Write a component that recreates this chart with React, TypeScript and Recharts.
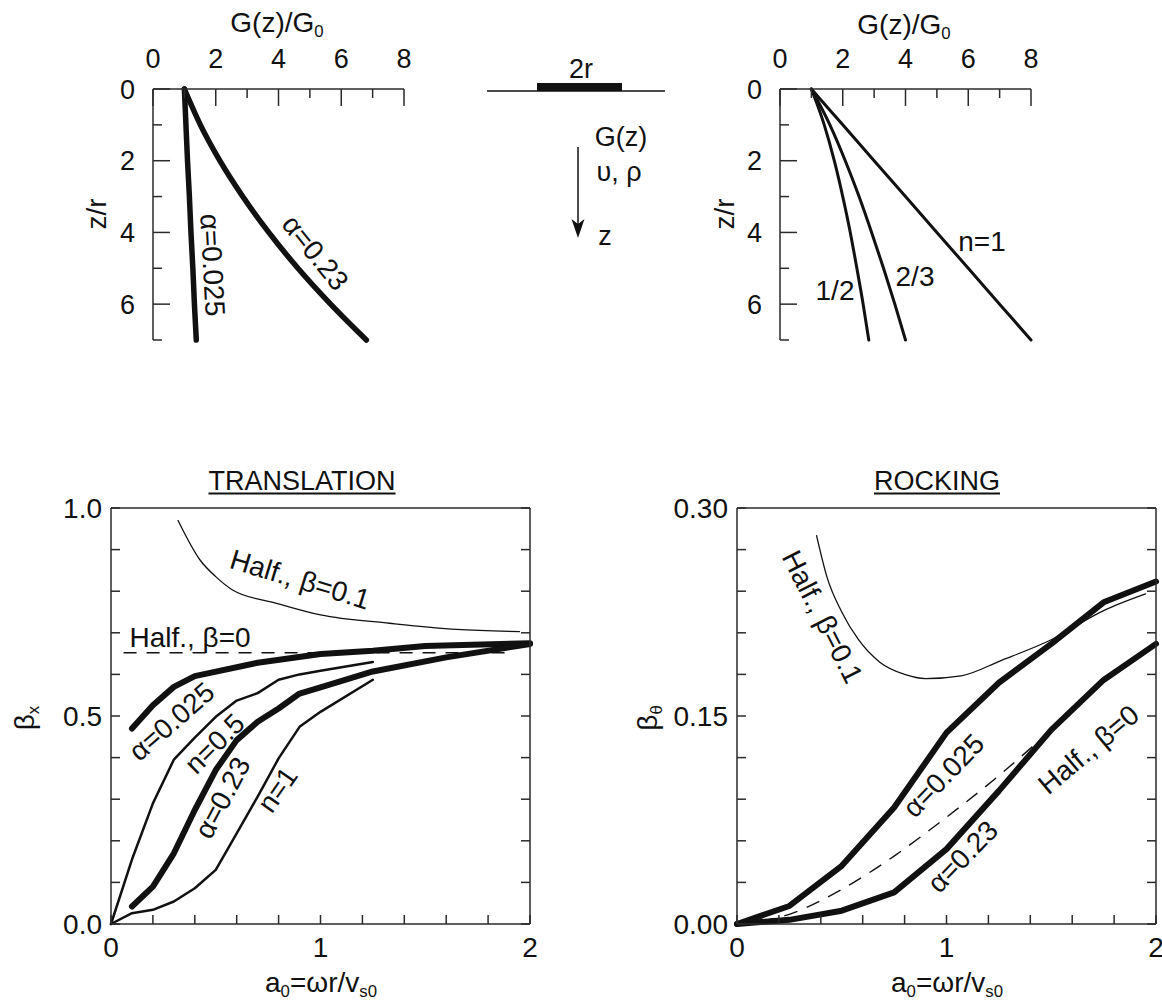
import { Line, LineChart, XAxis, YAxis } from "recharts";

const FONT = "'Liberation Sans', Arial, Helvetica, sans-serif";
const INK = "#111";
const AXIS = "#2a2a2a";

// ---- top panels: stiffness profiles, G(z)/G0 against depth z/r ----
const depth = [0, 1, 2, 3, 4, 5, 6, 7];
const gAlpha025 = [1.0, 1.05, 1.1, 1.16, 1.21, 1.27, 1.32, 1.38];
const gAlpha023 = [1.0, 1.51, 2.13, 2.86, 3.69, 4.62, 5.66, 6.8];
const gHalf = [1.0, 1.41, 1.73, 2.0, 2.24, 2.45, 2.65, 2.83];
const gTwoThirds = [1.0, 1.59, 2.08, 2.52, 2.92, 3.3, 3.66, 4.0];
const gLinear = [1, 2, 3, 4, 5, 6, 7, 8];
const gTicks = [0, 1, 2, 3, 4, 5, 6, 7, 8];
const zTicks = [0, 1, 2, 3, 4, 5, 6, 7];

// ---- bottom panels: damping against a0 = wr/vs0 ----
const a0Ticks = [0, 0.2, 0.4, 0.6, 0.8, 1, 1.2, 1.4, 1.6, 1.8, 2];
const bxTicks = [0, 0.1, 0.2, 0.3, 0.4, 0.5, 0.6, 0.7, 0.8, 0.9, 1];
const btTicks = [0, 0.03, 0.06, 0.09, 0.12, 0.15, 0.18, 0.21, 0.24, 0.27, 0.3];

// translation
const trA025x = [0.1, 0.2, 0.3, 0.4, 0.7, 1.0, 1.25, 1.5, 2.0];
const trA025y = [0.47, 0.526, 0.57, 0.596, 0.628, 0.649, 0.657, 0.668, 0.675];
const trN05x = [0, 0.1, 0.2, 0.3, 0.4, 0.5, 0.6, 0.7, 0.8, 0.9, 1.0, 1.25];
const trN05y = [0, 0.155, 0.29, 0.395, 0.448, 0.498, 0.537, 0.555, 0.587, 0.6, 0.609, 0.63];
const trA023x = [0.1, 0.2, 0.3, 0.4, 0.5, 0.6, 0.7, 0.8, 0.9, 1.0, 1.25, 1.6, 2.0];
const trA023y = [0.042, 0.09, 0.17, 0.274, 0.37, 0.442, 0.486, 0.518, 0.554, 0.569, 0.607, 0.641, 0.673];
const trN1x = [0, 0.1, 0.2, 0.3, 0.4, 0.5, 0.6, 0.7, 0.8, 0.9, 1.0, 1.25];
const trN1y = [0, 0.026, 0.034, 0.054, 0.086, 0.13, 0.218, 0.306, 0.398, 0.474, 0.51, 0.587];
const trHalf01x = [0.32, 0.425, 0.5, 0.58, 0.79, 1.0, 1.33, 1.65, 1.95];
const trHalf01y = [0.97, 0.875, 0.835, 0.803, 0.771, 0.743, 0.723, 0.708, 0.703];
const trHalf0x = [0.06, 1.92];
const trHalf0y = [0.652, 0.652];

// rocking
const rkA0x = [0, 0.25, 0.5, 0.75, 1.0, 1.25, 1.5, 1.75, 2.0];
const rkA025y = [0, 0.013, 0.042, 0.084, 0.138, 0.174, 0.202, 0.232, 0.247];
const rkA023y = [0, 0.003, 0.0096, 0.0228, 0.054, 0.096, 0.14, 0.176, 0.202];
const rkHalf0x = [0, 0.25, 0.5, 0.75, 1.0, 1.25, 1.5];
const rkHalf0y = [0, 0.007, 0.025, 0.049, 0.077, 0.107, 0.14];
const rkHalf01x = [0.38, 0.43, 0.5, 0.58, 0.68, 0.8, 0.9, 1.07, 1.26, 1.5, 1.75, 1.95];
const rkHalf01y = [0.28, 0.25, 0.225, 0.205, 0.189, 0.18, 0.177, 0.179, 0.19, 0.205, 0.226, 0.238];

const pts = (xs: number[], ys: number[]) => xs.map((x, i) => ({ x, y: ys[i] }));

type Side = "top" | "bottom" | "left" | "right";

// inward tick marks, label drawn outside the axis
const tickFor =
  (side: Side, fmt: ((v: number) => string | null) | null, lenOf: (v: number) => number, gap: number, size = 28) =>
  (p: any) => {
    const v = Number(p.payload.value);
    const len = lenOf(v);
    const label = fmt ? fmt(v) : null;
    const { x, y } = p;
    const ts = { fontSize: size, fontFamily: FONT, fill: INK };
    let ln;
    let tx;
    if (side === "top") {
      ln = <line x1={x} y1={y} x2={x} y2={y + len} stroke={AXIS} strokeWidth={1.5} />;
      tx = <text x={x} y={y - gap} textAnchor="middle" style={ts}>{label}</text>;
    } else if (side === "bottom") {
      ln = <line x1={x} y1={y} x2={x} y2={y - len} stroke={AXIS} strokeWidth={1.5} />;
      tx = <text x={x} y={y + gap} dy="0.71em" textAnchor="middle" style={ts}>{label}</text>;
    } else if (side === "left") {
      ln = <line x1={x} y1={y} x2={x + len} y2={y} stroke={AXIS} strokeWidth={1.5} />;
      tx = <text x={x - gap} y={y} dy="0.36em" textAnchor="end" style={ts}>{label}</text>;
    } else {
      ln = <line x1={x} y1={y} x2={x - len} y2={y} stroke={AXIS} strokeWidth={1.5} />;
      tx = null;
    }
    return (
      <g>
        {ln}
        {label !== null ? tx : null}
      </g>
    );
  };

const near = (a: number, b: number) => Math.abs(a - b) < 1e-6;
const evenLabel = (v: number) => (v % 2 === 0 ? String(v) : null);
const evenLen = (v: number) => (v % 2 === 0 ? 17 : 9);

function Note({ x, y, angle = 0, size = 28, underline = false, children }: any) {
  return (
    <div
      style={{
        position: "absolute",
        left: x,
        top: y,
        transform: `translate(-50%, -50%) rotate(${angle}deg)`,
        fontSize: size,
        lineHeight: 1,
        whiteSpace: "nowrap",
        color: INK,
        textDecoration: underline ? "underline" : undefined,
        textUnderlineOffset: 3,
      }}
    >
      {children}
    </div>
  );
}

const Sub = ({ children }: any) => (
  <span style={{ fontSize: "0.6em", position: "relative", top: "0.3em" }}>{children}</span>
);

// axes get a 1px band (Recharts skips axes of zero size); margins are reduced to match
function Profile({ left, curves }: { left: number; curves: { data: { x: number; y: number }[]; w: number }[] }) {
  return (
    <div style={{ position: "absolute", left, top: 0 }}>
      <LineChart width={440} height={370} margin={{ top: 88, left: 152, right: 36, bottom: 30 }}>
        <XAxis
          type="number"
          dataKey="x"
          orientation="top"
          domain={[0, 8]}
          ticks={gTicks}
          interval={0}
          height={1}
          tickSize={0}
          tickMargin={0}
          tickLine={false}
          axisLine={{ stroke: AXIS, strokeWidth: 1.5 }}
          tick={tickFor("top", evenLabel, evenLen, 21, 27)}
        />
        <YAxis
          type="number"
          dataKey="y"
          reversed
          domain={[0, 7]}
          ticks={zTicks}
          interval={0}
          width={1}
          tickSize={0}
          tickMargin={0}
          tickLine={false}
          axisLine={{ stroke: AXIS, strokeWidth: 1.5 }}
          tick={tickFor("left", evenLabel, evenLen, 18, 27)}
        />
        {curves.map((c, i) => (
          <Line
            key={i}
            data={c.data}
            dataKey="y"
            type="monotone"
            stroke={INK}
            strokeWidth={c.w}
            strokeLinecap="round"
            dot={false}
            activeDot={false}
            isAnimationActive={false}
          />
        ))}
      </LineChart>
    </div>
  );
}

type Curve = { data: { x: number; y: number }[]; w: number; dash?: string; smooth?: boolean };

function Response({
  left,
  yMax,
  yTicks,
  yFmt,
  curves,
}: {
  left: number;
  yMax: number;
  yTicks: number[];
  yFmt: (v: number) => string | null;
  curves: Curve[];
}) {
  const x2 = (v: number) => (near(v, Math.round(v)) ? String(Math.round(v)) : null);
  const axisLine = { stroke: AXIS, strokeWidth: 1.5 };
  return (
    <div style={{ position: "absolute", left, top: 440 }}>
      <LineChart width={570} height={562} margin={{ top: 67, left: 110, right: 39, bottom: 77 }}>
        <XAxis
          type="number"
          dataKey="x"
          domain={[0, 2]}
          ticks={a0Ticks}
          interval={0}
          height={1}
          tickSize={0}
          tickMargin={0}
          tickLine={false}
          axisLine={axisLine}
          tick={tickFor("bottom", x2, () => 9, 13)}
        />
        <XAxis
          xAxisId="t"
          type="number"
          orientation="top"
          domain={[0, 2]}
          allowDataOverflow
          ticks={a0Ticks}
          interval={0}
          height={1}
          tickSize={0}
          tickMargin={0}
          tickLine={false}
          axisLine={axisLine}
          tick={tickFor("top", null, () => 9, 0)}
        />
        <YAxis
          type="number"
          dataKey="y"
          domain={[0, yMax]}
          ticks={yTicks}
          interval={0}
          width={1}
          tickSize={0}
          tickMargin={0}
          tickLine={false}
          axisLine={axisLine}
          tick={tickFor("left", yFmt, () => 9, 9)}
        />
        <YAxis
          yAxisId="r"
          type="number"
          orientation="right"
          domain={[0, yMax]}
          allowDataOverflow
          ticks={yTicks}
          interval={0}
          width={1}
          tickSize={0}
          tickMargin={0}
          tickLine={false}
          axisLine={axisLine}
          tick={tickFor("right", null, () => 9, 0)}
        />
        {curves.map((c, i) => (
          <Line
            key={i}
            data={c.data}
            dataKey="y"
            type={c.smooth ? "monotone" : "linear"}
            stroke={INK}
            strokeWidth={c.w}
            strokeDasharray={c.dash}
            strokeLinecap={c.dash ? "butt" : "round"}
            strokeLinejoin="round"
            dot={false}
            activeDot={false}
            isAnimationActive={false}
          />
        ))}
      </LineChart>
    </div>
  );
}

export default function App() {
  return (
    <div
      style={{
        position: "absolute",
        left: 0,
        top: 0,
        width: 1162,
        height: 1002,
        overflow: "hidden",
        background: "#fff",
        fontFamily: FONT,
        color: INK,
      }}
    >
      <Profile
        left={0}
        curves={[
          { data: pts(gAlpha025, depth), w: 5.5 },
          { data: pts(gAlpha023, depth), w: 5.5 },
        ]}
      />
      <Profile
        left={627}
        curves={[
          { data: pts(gHalf, depth), w: 3 },
          { data: pts(gTwoThirds, depth), w: 3 },
          { data: pts(gLinear, depth), w: 3 },
        ]}
      />
      <Response
        left={0}
        yMax={1}
        yTicks={bxTicks}
        yFmt={(v) => (near(v * 2, Math.round(v * 2)) ? v.toFixed(1) : null)}
        curves={[
          { data: pts(trHalf01x, trHalf01y), w: 1.3, smooth: true },
          { data: pts(trHalf0x, trHalf0y), w: 1.4, dash: "13 10" },
          { data: pts(trA025x, trA025y), w: 6 },
          { data: pts(trN05x, trN05y), w: 2.5 },
          { data: pts(trA023x, trA023y), w: 6 },
          { data: pts(trN1x, trN1y), w: 2.5 },
        ]}
      />
      <Response
        left={626}
        yMax={0.3}
        yTicks={btTicks}
        yFmt={(v) => (near(v / 0.15, Math.round(v / 0.15)) ? v.toFixed(2) : null)}
        curves={[
          { data: pts(rkHalf01x, rkHalf01y), w: 1.3, smooth: true },
          { data: pts(rkHalf0x, rkHalf0y), w: 1.4, dash: "14 10", smooth: true },
          { data: pts(rkA0x, rkA025y), w: 6 },
          { data: pts(rkA0x, rkA023y), w: 6 },
        ]}
      />

      {/* soil sketch between the profile panels */}
      <svg style={{ position: "absolute", left: 470, top: 40 }} width={220} height={220}>
        <g transform="translate(-470,-40)">
          <line x1={487} y1={91} x2={665} y2={91} stroke={INK} strokeWidth={1.5} />
          <rect x={537} y={83} width={85} height={8} fill={INK} />
          <line x1={578} y1={147} x2={578} y2={230} stroke={INK} strokeWidth={1.5} />
          <polygon points="578,238 571.5,219 578,224 584.5,219" fill={INK} />
        </g>
      </svg>
      <Note x={581} y={69} size={27}>2r</Note>
      <Note x={621} y={137} size={27}>G(z)</Note>
      <Note x={619} y={172} size={27}>υ, ρ</Note>
      <Note x={605} y={236} size={27}>z</Note>

      {/* profile axis titles and curve labels */}
      <Note x={277} y={23}>
        G(z)/G<Sub>0</Sub>
      </Note>
      <Note x={904} y={25}>
        G(z)/G<Sub>0</Sub>
      </Note>
      <Note x={97} y={214} angle={-90}>z/r</Note>
      <Note x={725} y={214} angle={-90}>z/r</Note>
      <Note x={212} y={265} angle={87}>α=0.025</Note>
      <Note x={315} y={253} angle={51}>α=0.23</Note>
      <Note x={982} y={242}>n=1</Note>
      <Note x={915} y={277}>2/3</Note>
      <Note x={835} y={291}>1/2</Note>

      {/* translation */}
      <Note x={302} y={481} size={27} underline>TRANSLATION</Note>
      <Note x={25} y={718} angle={-90}>
        β<Sub>x</Sub>
      </Note>
      <Note x={321} y={983}>
        a<Sub>0</Sub>=ωr/v<Sub>s0</Sub>
      </Note>
      <Note x={300} y={580} angle={17}>Half., β=0.1</Note>
      <Note x={190} y={638}>Half., β=0</Note>
      <Note x={172} y={722} angle={-41}>α=0.025</Note>
      <Note x={215} y={744} angle={-45}>n=0.5</Note>
      <Note x={223} y={798} angle={-62}>α=0.23</Note>
      <Note x={278} y={790} angle={-55}>n=1</Note>

      {/* rocking */}
      <Note x={937} y={481} size={27} underline>ROCKING</Note>
      <Note x={648} y={718} angle={-90}>
        β<Sub>θ</Sub>
      </Note>
      <Note x={947} y={983}>
        a<Sub>0</Sub>=ωr/v<Sub>s0</Sub>
      </Note>
      <Note x={822} y={617} angle={63}>Half., β=0.1</Note>
      <Note x={944} y={776} angle={-46}>α=0.025</Note>
      <Note x={963} y={857} angle={-46}>α=0.23</Note>
      <Note x={1089} y={750} angle={-40}>Half., β=0</Note>
    </div>
  );
}
